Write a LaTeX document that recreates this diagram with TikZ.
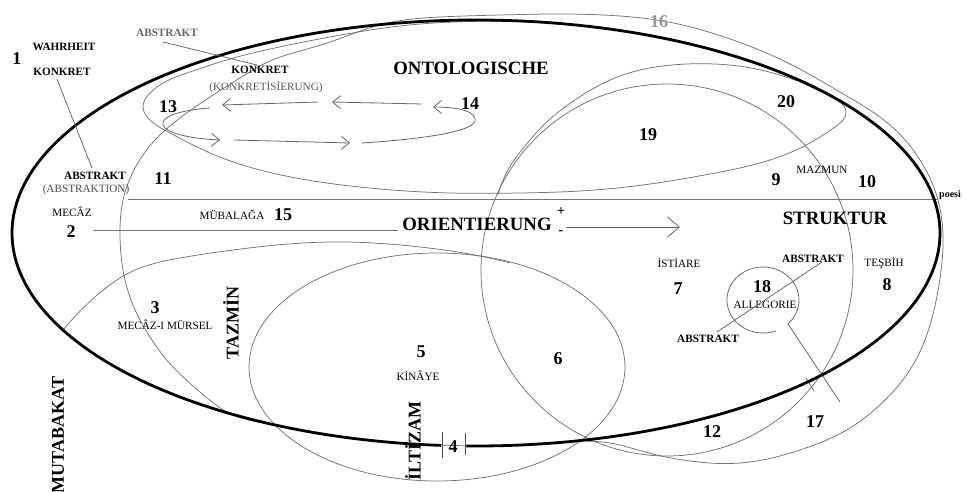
\documentclass[tikz,border=0pt]{standalone}
\usepackage{fontspec}
\setmainfont{Liberation Serif}
\usetikzlibrary{arrows.meta,hobby}
\begin{document}
\begin{tikzpicture}[x=1pt,y=-1pt,
  curve/.style={draw=black!55, line width=0.75pt},
  rim/.style={draw=black, line width=2.8pt},
  num/.style={font=\fontsize{18}{18}\selectfont\bfseries, inner sep=0pt},
  head/.style={font=\fontsize{18.8}{18.8}\selectfont\bfseries, inner sep=0pt},
  side/.style={font=\fontsize{18}{18}\selectfont\bfseries, inner sep=0pt, rotate=90},
  term/.style={font=\fontsize{11.2}{11.2}\selectfont, inner sep=0pt},
  termb/.style={font=\fontsize{11.2}{11.2}\selectfont\bfseries, inner sep=0pt},
  flow/.style={draw=black!60, line width=0.8pt, -{Straight Barb[length=8pt,width=13pt]}},
  bigflow/.style={draw=black!60, line width=0.8pt, -{Straight Barb[length=12pt,width=20pt]}},
  pointer/.style={draw=black!60, line width=0.75pt},
  bar/.style={draw=black!70, line width=0.9pt}]
\useasboundingbox[fill=white] (0,0) rectangle (966,492);

% ---- outer thin region (11 / 16 / 17); both ends meet under the thick rim
\draw[curve, use Hobby shortcut]
  (500,446) .. (440,445) .. (380,441) .. (320,433) .. (270,424) .. (233,415)
  .. (200,392) .. (173,367) .. (150,337) .. (133,305) .. (123,270)
  .. (120,235) .. (123,200) .. (135,168) .. (155,140) .. (180,118)
  .. (210,97) .. (240,78) .. (270,61) .. (300,51) .. (330,42) .. (383,24)
  .. (440,17) .. (500,15) .. (560,14) .. (620,16) .. (663,21) .. (733,40)
  .. (790,64) .. (845,95) .. (890,125) .. (920,160) .. (938,200)
  .. (943,245) .. (939,285) .. (930,325) .. (913,365) .. (885,400)
  .. (850,428) .. (800,450) .. (740,463) .. (690,461) .. (645,452)
  .. (610,443) .. (560,442) .. (500,446);

% ---- region 13 / 20; both ends meet under the thick rim
\draw[curve, use Hobby shortcut]
  (600,28) .. (660,38) .. (720,52.5) .. (780,72.5) .. (820,91) .. (840,102)
  .. (846,112) .. (835,127) .. (810,143) .. (770,160) .. (710,174)
  .. (650,184) .. (580,191) .. (520,193) .. (450,193) .. (380,189)
  .. (320,182) .. (260,170) .. (210,153) .. (170,133) .. (150,120)
  .. (143,107) .. (150,93) .. (165,82) .. (190,72) .. (220,62) .. (270,49)
  .. (330,37) .. (400,26) .. (470,21.5) .. (540,22.5) .. (600,28);

% ---- circle 19 and its upper companion arc (20)
\draw[curve] (667,270) circle[radius=186];
\draw[curve, use Hobby shortcut]
  (498,195) .. (508,170) .. (525,146) .. (549,120) .. (572,102) .. (620,76)
  .. (687,64) .. (745,67) .. (797,81);

% ---- region 5 and the boundary of region 3
\draw[curve] (437,367) ellipse[x radius=188, y radius=114];
\draw[curve, use Hobby shortcut]
  (63,330) .. (95,297) .. (133,271) .. (180,258) .. (233,250) .. (330,242)
  .. (420,247) .. (480,256) .. (510,263);

% ---- horizontal division
\coordinate (pL) at (128,199);
\coordinate (pR) at (938,199);
\draw[curve] (pL) -- (pR);

% ---- circulating arrows (13 / 14)
\draw[flow] (318,102) -- (222,105);
\draw[flow] (422,104) -- (332,102);
\draw[flow] (362,143) .. controls (410,140) and (472,133) .. (475,121)
  .. controls (477,112) and (460,107) .. (433,107);
\draw[flow] (210,108) .. controls (180,110) and (160,117) .. (163,125)
  .. controls (166,134) and (195,139) .. (220,140);
\draw[flow] (234,140) -- (350,143);

% ---- allegory circle with its handle (18 / 17)
\draw[pointer] plot[domain=69:406, samples=90, smooth]
  ({763+36*cos(\x)},{300+33*sin(\x)});
\coordinate (h1) at (788,324);
\coordinate (h2) at (840,402);
\draw[pointer] (h1) -- (h2);
\coordinate (t1) at (806,378);
\coordinate (t2) at (814,391);
\draw[pointer] (t1) -- (t2);

% ---- main thick ellipse, open at marker 4
\draw[rim] plot[domain=94.3:451.2, samples=260, smooth]
  ({476+464*cos(\x)},{233+213*sin(\x)});
\coordinate (b1a) at (442,432); \coordinate (b1b) at (442,458);
\coordinate (b2a) at (465,433); \coordinate (b2b) at (465,455);
\draw[bar] (b1a) -- (b1b);
\draw[bar] (b2a) -- (b2b);

% ---- labels
\node[num] (n1) at (17,59) {1};
\node[termb] (wahr) at (64,47) {WAHRHEIT};
\node[termb] (konL) at (62,72) {KONKRET};
\node[termb] (absL) at (95,176) {ABSTRAKT};
\node[term, text=black!70] (absLx) at (86,190) {(ABSTRAKTION)};
\coordinate (kL1) at (57,79);
\coordinate (kL2) at (92,168);
\draw[pointer] (kL1) -- (kL2);

\node[termb, text=black!60] (absT) at (167,33) {ABSTRAKT};
\node[termb] (konM) at (260,70) {KONKRET};
\node[term, text=black!65] (konMx) at (266,87) {(KONKRETİSİERUNG)};
\coordinate (kT1) at (163,42);
\coordinate (kT2) at (257,65);
\draw[pointer] (kT1) -- (kT2);

\node[head] (onto) at (471,68) {ONTOLOGISCHE};
\node[num] (n13) at (168,107) {13};
\node[num] (n14) at (470,104) {14};
\node[num] (n11) at (163,179) {11};
\node[term] (mecaz) at (72,212) {MECÂZ};
\node[num] (n2) at (71,232) {2};
\node[term] (muba) at (232,215) {MÜBALAĞA};
\node[num] (n15) at (283,215) {15};

\node[head] (orient) at (477,224) {ORIENTIERUNG};
\node[font=\fontsize{14}{14}\selectfont\bfseries, inner sep=0pt] (plus) at (561,212) {+};
\node[font=\fontsize{14}{14}\selectfont\bfseries, inner sep=0pt] (minus) at (561,233) {-};
\coordinate (oL) at (93,230);
\draw[curve] (oL) -- ([xshift=-4pt]oL -| orient.west);
\coordinate (oA) at (566,227);
\coordinate (oB) at (680,227);
\draw[bigflow] (oA) -- (oB);

\node[num] (n3) at (155,308) {3};
\node[term] (mursel) at (165,325) {MECÂZ-I MÜRSEL};
\node[side] (tazmin) at (231,323) {TAZMİN};
\node[num] (n5) at (421,352) {5};
\node[term] (kinaye) at (418,376) {KİNÂYE};
\node[num] (n6) at (558,359) {6};
\node[side] (iltizam) at (413,441) {İLTİZAM};
\node[num] (n4) at (453,447) {4};
\node[side] (mutab) at (58,435) {MUTABAKAT};

\node[head] (strukt) at (835,218) {STRUKTUR};
\node[term] (istiare) at (679,263) {İSTİARE};
\node[num] (n7) at (678,289) {7};
\node[term] (tesbih) at (884,263) {TEŞBİH};
\node[num] (n8) at (887,285) {8};
\node[num] (n18) at (762,287) {18};
\node[term] (alleg) at (765,305) {ALLEGORIE};
\node[termb] (absR1) at (813,259) {ABSTRAKT};
\node[termb] (absR2) at (708,339) {ABSTRAKT};
\coordinate (aR1) at (822,262);
\coordinate (aR2) at (717,332);
\draw[pointer] (aR1) -- (aR2);

\node[num] (n9) at (776,180) {9};
\node[term] (mazmun) at (822,170) {MAZMUN};
\node[num] (n10) at (867,182) {10};
\node[font=\fontsize{10}{10}\selectfont\bfseries, inner sep=0pt, anchor=west] (poesi) at (939,195) {poesi};
\node[num] (n19) at (648,135) {19};
\node[num] (n20) at (786,102) {20};
\node[num, text=black!40] (n16) at (659,22) {16};
\node[num] (n12) at (712,432) {12};
\node[num] (n17) at (815,422) {17};
\end{tikzpicture}
\end{document}
